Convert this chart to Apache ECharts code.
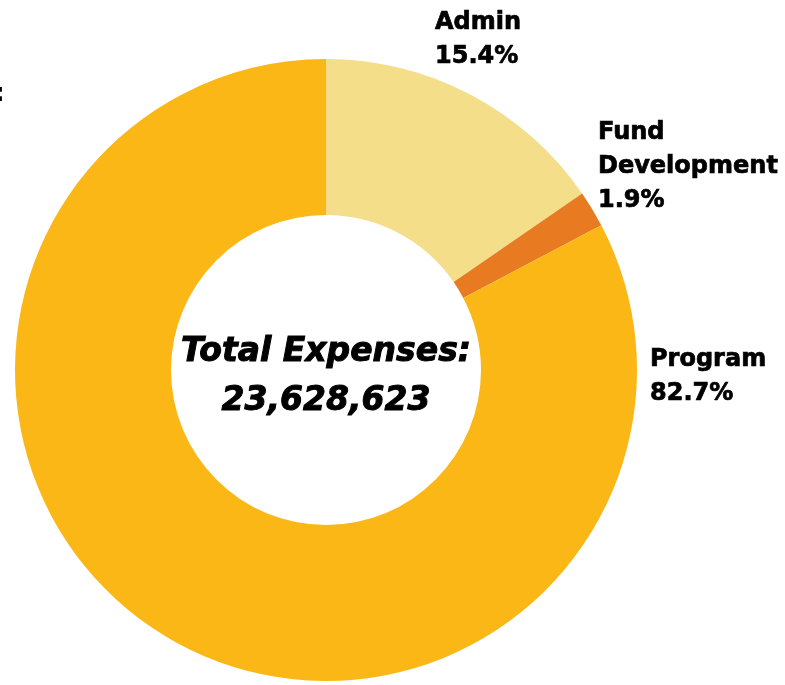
<!DOCTYPE html>
<html>
<head>
<meta charset="utf-8">
<script src="https://cdn.jsdelivr.net/npm/echarts@6/dist/echarts.min.js"></script>
<style>
html,body{margin:0;padding:0;background:#fff;}
#chart{width:785px;height:685px;}
</style>
</head>
<body>
<div id="chart"></div>
<script>
const categories = ['Admin', 'Fund Development', 'Program'];
const labelNames = ['Admin', 'Fund\nDevelopment', 'Program'];
const values = [15.4, 1.9, 82.7];
const colors = ['#F4DE8A', '#E87B22', '#FBB716'];
const centerTitle = 'Total Expenses:';
const centerValue = '23,628,623';

const FONT = '"DejaVu Sans", sans-serif';
const labelSpots = [
  {x: 435, y: 40},
  {x: 598, y: 167},
  {x: 650, y: 377}
];

const chart = echarts.init(document.getElementById('chart'), null, {renderer: 'canvas'});
chart.setOption({
  backgroundColor: '#ffffff',
  animation: false,
  series: [{
    type: 'pie',
    center: [326, 370],
    radius: [155, 311],
    startAngle: 90,
    clockwise: true,
    avoidLabelOverlap: false,
    data: categories.map((c, i) => ({
      name: c,
      value: values[i],
      itemStyle: {color: colors[i]},
      label: {formatter: labelNames[i] + '\n' + values[i].toFixed(1) + '%'}
    })),
    label: {
      show: true,
      position: 'outside',
      color: '#000',
      fontFamily: FONT,
      fontWeight: 'bold',
      fontSize: 24,
      lineHeight: 34,
      align: 'left',
      textBorderColor: '#000',
      textBorderWidth: 0.7
    },
    labelLine: {show: false},
    labelLayout: function (p) {
      const s = labelSpots[p.dataIndex];
      return {x: s.x, y: s.y, align: 'left', verticalAlign: 'middle', hideOverlap: false};
    },
    emphasis: {disabled: true}
  }],
  graphic: [
    {
      type: 'text',
      x: 326,
      y: 352,
      style: {
        text: centerTitle,
        fill: '#000',
        stroke: '#000',
        lineWidth: 1,
        font: 'italic bold 33px ' + FONT,
        align: 'center',
        verticalAlign: 'middle'
      }
    },
    {
      type: 'text',
      x: 326,
      y: 401,
      style: {
        text: centerValue,
        fill: '#000',
        stroke: '#000',
        lineWidth: 1,
        font: 'italic bold 33px ' + FONT,
        align: 'center',
        verticalAlign: 'middle'
      }
    },
    {
      type: 'text',
      x: -5,
      y: 95,
      style: {text: ':', fill: '#000', font: 'bold 24px ' + FONT, verticalAlign: 'middle'}
    }
  ]
});
</script>
</body>
</html>
